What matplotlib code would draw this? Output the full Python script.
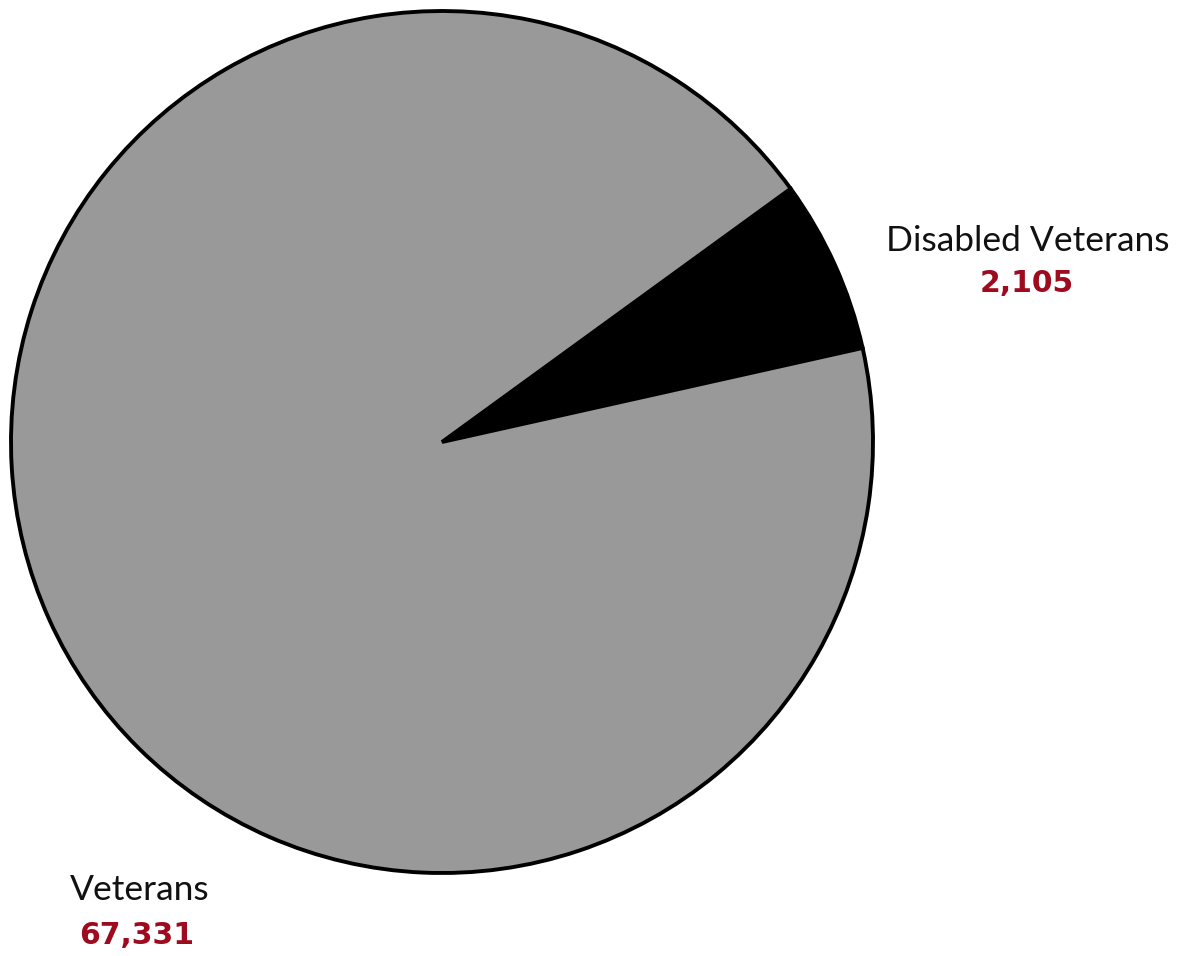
import matplotlib
matplotlib.use("Agg")
import matplotlib.pyplot as plt

# Data
categories = ["Disabled Veterans", "Veterans"]
counts = [2105, 67331]
count_labels = ["2,105", "67,331"]
# wedge shares as drawn in the reference picture (percent of circle)
wedge_shares = [6.5, 93.5]
colors = ["#000000", "#999999"]

W, H = 1196, 956
fig = plt.figure(figsize=(W / 100, H / 100), dpi=100)
ax = fig.add_axes([0, 0, 1, 1])

cx, cy, r = 442, H - 442, 431
ax.pie(wedge_shares, colors=colors, startangle=12.6, counterclock=True,
       center=(cx, cy), radius=r,
       wedgeprops=dict(edgecolor="black", linewidth=2.8, antialiased=True))

ax.set_xlim(0, W)
ax.set_ylim(0, H)
ax.set_aspect("equal")
ax.set_axis_off()

font = "Lato"
num_font = "DejaVu Sans"
red = "#9E0A1E"
# Disabled veterans label
ax.text(1028, H - 241, categories[0], ha="center", va="center",
        fontsize=25.5, family=font, color="#111111")
ax.text(1027, H - 283, count_labels[0], ha="center", va="center",
        fontsize=21.5, family=num_font, fontweight="bold", color=red)
# Veterans label
ax.text(139.5, H - 890, categories[1], ha="center", va="center",
        fontsize=25.5, family=font, color="#111111")
ax.text(137, H - 936, count_labels[1], ha="center", va="center",
        fontsize=21.5, family=num_font, fontweight="bold", color=red)

fig.savefig("out.png", dpi=100)
